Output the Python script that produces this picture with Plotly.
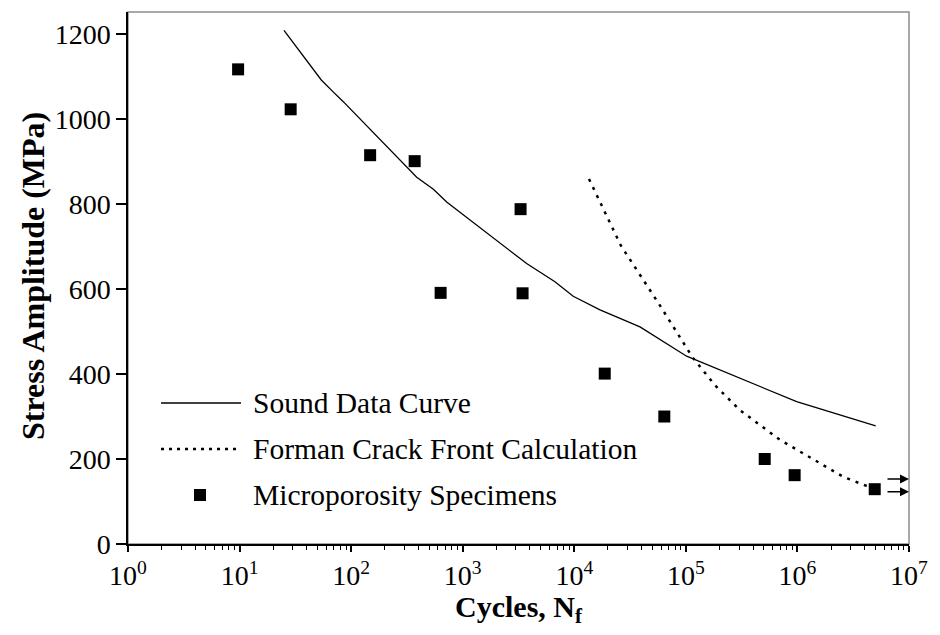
import plotly.graph_objects as go

# ---------------- data ----------------
sound_n = [25, 40, 54, 69, 85, 387, 546, 718, 3740, 6710, 9780, 17000, 38800, 101600, 984000, 5030000]
sound_s = [1209, 1139, 1092, 1064, 1041, 863, 835, 805, 660, 617, 583, 551, 511, 442, 335, 278]

forman_n = [13550, 26200, 58700, 115000, 182000, 305000, 698000, 2580000, 4320000]
forman_s = [859, 702, 561, 439, 374, 315, 245, 158, 135]

spec_n = [9.7, 28.7, 148, 371, 634, 3300, 3440, 18750, 64100, 509000, 944000, 4930000]
spec_s = [1117, 1023, 915, 901, 591, 788, 590, 401, 300, 200, 162, 129]

runout_s = [153, 123]  # run-out arrows at the right edge

x_exponents = [0, 1, 2, 3, 4, 5, 6, 7]
x_tick_text = ["10<sup>%d</sup>" % e for e in x_exponents]
y_ticks = [0, 200, 400, 600, 800, 1000, 1200]

legend_names = ["Sound Data Curve", "Forman Crack Front Calculation", "Microporosity Specimens"]
x_title = "<b>Cycles, N<sub>f</sub></b>"
y_title = "<b>Stress Amplitude (MPa)</b>"

FONT = "Liberation Serif"

W, H = 940, 635
L, R, T, B = 128, 31, 12, 91
PW, PH = W - L - R, H - T - B


def px_x(p):
    return (p - L) / PW


def px_y(p):
    return (H - B - p) / PH


fig = go.Figure()
fig.add_trace(go.Scatter(x=sound_n, y=sound_s, mode="lines",
                         line=dict(color="black", width=1.3), showlegend=False))
fig.add_trace(go.Scatter(x=forman_n, y=forman_s, mode="lines",
                         line=dict(color="black", width=2.5, dash="3px,6px"), showlegend=False))
fig.add_trace(go.Scatter(x=spec_n, y=spec_s, mode="markers",
                         marker=dict(symbol="square", size=12, color="black"), showlegend=False))

shapes = [dict(type="rect", xref="paper", yref="paper", x0=0, x1=1, y0=0, y1=1,
               line=dict(color="#8c8c8c", width=1.5), layer="below")]

# manual legend
leg_y = [403, 449, 495]
shapes.append(dict(type="line", xref="paper", yref="paper", x0=px_x(161), x1=px_x(241),
                   y0=px_y(leg_y[0]), y1=px_y(leg_y[0]), line=dict(color="black", width=1.3)))
shapes.append(dict(type="line", xref="paper", yref="paper", x0=px_x(161), x1=px_x(241),
                   y0=px_y(leg_y[1]), y1=px_y(leg_y[1]), line=dict(color="black", width=2.5, dash="3px,5px")))
shapes.append(dict(type="rect", xref="paper", yref="paper", x0=px_x(194), x1=px_x(206),
                   y0=px_y(leg_y[2] + 6), y1=px_y(leg_y[2] - 6), line=dict(width=0), fillcolor="black"))

annotations = []
for name, yy in zip(legend_names, leg_y):
    annotations.append(dict(text=name, xref="paper", yref="paper", x=px_x(251), y=px_y(yy),
                            xanchor="left", yanchor="middle", showarrow=False,
                            font=dict(family=FONT, size=29.5, color="black")))

for s in runout_s:
    annotations.append(dict(x=7, y=s, xref="x", yref="y", ax=-23, ay=0, showarrow=True,
                            arrowhead=2, arrowsize=1.2, arrowwidth=1.5, arrowcolor="black", text=""))

# axis titles
annotations.append(dict(text=x_title, xref="paper", yref="paper", x=px_x(519), y=px_y(609),
                        xanchor="center", yanchor="middle", showarrow=False,
                        font=dict(family=FONT, size=30, color="black")))
annotations.append(dict(text=y_title, xref="paper", yref="paper", x=px_x(33), y=px_y(276),
                        xanchor="center", yanchor="middle", showarrow=False, textangle=-90,
                        font=dict(family=FONT, size=32, color="black")))

fig.update_layout(
    width=W, height=H,
    margin=dict(l=L, r=R, t=T, b=B, autoexpand=False),
    paper_bgcolor="white", plot_bgcolor="white",
    font=dict(family=FONT, size=28, color="black"),
    shapes=shapes, annotations=annotations,
    showlegend=False,
)
fig.update_xaxes(
    type="log", range=[0, 7], automargin=False,
    tickmode="array", tickvals=[10 ** e for e in x_exponents], ticktext=x_tick_text,
    ticks="outside", ticklen=6, tickwidth=1.5, tickcolor="black",
    showline=True, linecolor="black", linewidth=1.5,
    showgrid=False, zeroline=False,
    minor=dict(tickmode="array",
               tickvals=[m * 10 ** e for e in x_exponents[:-1] for m in range(2, 10)],
               ticks="outside", ticklen=4, tickwidth=1, tickcolor="black", showgrid=False),
    tickfont=dict(family=FONT, size=28, color="black"),
)
fig.update_yaxes(
    range=[0, 1252], automargin=False,
    tickmode="array", tickvals=y_ticks,
    ticks="outside", ticklen=10, tickwidth=1.5, tickcolor="black",
    showline=True, linecolor="black", linewidth=1.5,
    showgrid=False, zeroline=False,
    tickfont=dict(family=FONT, size=28, color="black"),
)

fig.write_html("out.html")
